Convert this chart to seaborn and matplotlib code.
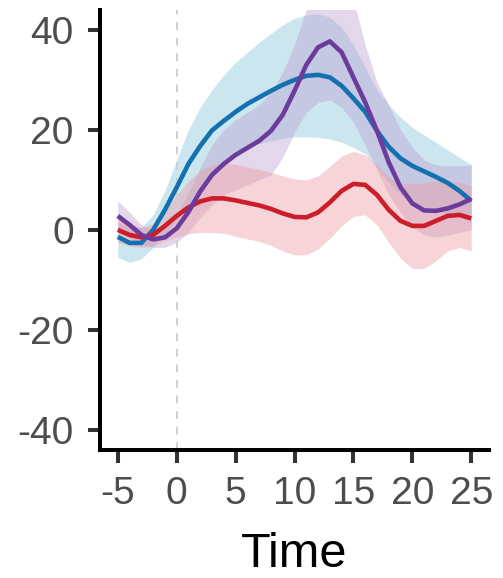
import numpy as np
import pandas as pd
import matplotlib
matplotlib.use("Agg")
import matplotlib.pyplot as plt
import seaborn as sns

# Time axis (integer steps)
time = list(range(-5, 26))

# Group means and confidence limits
blue_mean = [-1.4, -2.6, -2.6, 0.0, 4.0, 8.5, 13.2, 16.8, 19.9, 21.8, 23.6, 25.2, 26.5, 27.8, 29.0, 30.0,
             30.8, 31.0, 30.5, 28.8, 26.3, 23.6, 19.8, 16.6, 14.3, 12.8, 11.7, 10.6, 9.4, 7.8, 5.8]
blue_upper = [1.5, 0.5, 0.5, 3.0, 7.8, 14.0, 20.0, 24.5, 28.0, 31.0, 33.5, 35.5, 37.5, 39.3, 41.0, 42.3,
              43.0, 43.2, 42.5, 40.5, 37.0, 32.5, 28.0, 25.0, 22.5, 20.5, 19.0, 17.5, 16.0, 14.5, 13.0]
blue_lower = [-5.5, -6.5, -5.8, -3.5, -0.8, 1.8, 5.0, 8.2, 11.0, 14.0, 15.8, 16.8, 17.3, 17.8, 18.3, 18.6,
              18.6, 18.5, 18.2, 17.5, 16.5, 15.2, 12.5, 9.5, 7.0, 5.5, 4.5, 3.8, 3.2, 2.5, 1.5]

purple_mean = [2.8, 1.0, -1.0, -1.9, -1.5, 0.3, 3.6, 7.7, 11.0, 13.2, 15.0, 16.4, 17.8, 19.8, 23.0, 27.8,
               33.0, 36.5, 37.7, 35.5, 30.5, 25.5, 19.8, 13.5, 8.5, 5.3, 3.9, 3.8, 4.3, 5.1, 6.2]
purple_upper = [5.8, 3.5, 1.0, 0.0, 0.5, 3.0, 7.5, 12.5, 17.0, 20.0, 22.0, 23.5, 25.0, 27.5, 31.5, 37.0,
                44.0, 48.0, 50.0, 50.0, 46.0, 37.0, 29.5, 25.0, 20.0, 16.5, 14.0, 13.0, 12.8, 12.8, 13.0]
purple_lower = [0.0, -1.5, -3.0, -3.5, -3.5, -2.5, -0.5, 2.5, 5.0, 7.0, 8.0, 9.0, 10.0, 11.0, 14.5, 19.5,
                23.5, 25.5, 26.0, 24.5, 21.5, 17.0, 12.0, 7.0, 3.5, 0.5, -1.0, -1.5, -1.0, -0.5, 0.0]

red_mean = [0.0, -1.0, -1.5, -1.0, 0.8, 2.8, 4.5, 5.7, 6.3, 6.3, 5.9, 5.4, 4.9, 4.2, 3.3, 2.6,
            2.5, 3.5, 5.5, 7.8, 9.2, 9.0, 7.0, 4.0, 1.8, 0.8, 0.8, 1.8, 2.8, 3.0, 2.3]
red_upper = [2.5, 1.2, 0.5, 1.2, 3.8, 7.0, 9.8, 11.9, 13.1, 13.3, 13.1, 12.6, 12.1, 11.5, 10.8, 10.2,
             10.0, 10.8, 12.7, 14.8, 15.7, 15.0, 13.0, 10.5, 9.3, 9.3, 9.3, 9.8, 9.8, 9.5, 8.8]
red_lower = [-2.5, -3.2, -3.5, -3.2, -2.2, -1.4, -0.8, -0.5, -0.5, -0.7, -1.3, -1.8, -2.3, -3.1, -4.2, -5.0,
             -5.0, -3.8, -1.7, 0.8, 2.7, 3.0, 1.0, -2.5, -5.7, -7.7, -7.7, -6.2, -4.2, -3.5, -4.2]

x_ticks = [-5, 0, 5, 10, 15, 20, 25]
y_ticks = [-40, -20, 0, 20, 40]

groups = ["blue", "red", "purple"]
line_colors = {"blue": "#1570b0", "red": "#cc1d2b", "purple": "#6b3c9b"}
band_styles = {"blue": ("#add8e6", 0.62), "purple": ("#b99bd0", 0.40), "red": ("#ee9aa2", 0.42)}

df = pd.concat([
    pd.DataFrame({"Time": time, "value": blue_mean, "lo": blue_lower, "hi": blue_upper, "group": "blue"}),
    pd.DataFrame({"Time": time, "value": red_mean, "lo": red_lower, "hi": red_upper, "group": "red"}),
    pd.DataFrame({"Time": time, "value": purple_mean, "lo": purple_lower, "hi": purple_upper, "group": "purple"}),
], ignore_index=True)

sns.set_theme(style="ticks")
plt.rcParams["font.family"] = ["Liberation Sans", "DejaVu Sans"]

fig = plt.figure(figsize=(5.03, 5.78), dpi=100)
ax = fig.add_axes([0.199, 0.2215, 0.773, 0.7615])

# Confidence ribbons
for g in ["blue", "purple", "red"]:
    sub = df[df["group"] == g]
    col, a = band_styles[g]
    ax.fill_between(sub["Time"], sub["lo"], sub["hi"], color=col, alpha=a, linewidth=0, zorder=1)

# Event onset marker
ax.axvline(0, color="#cfcfcf", linestyle=(0, (4, 4)), linewidth=1.4, zorder=2)

# Group mean curves
sns.lineplot(data=df, x="Time", y="value", hue="group", hue_order=groups,
             palette=line_colors, linewidth=3.3, legend=False, ax=ax, zorder=3,
             estimator=None, sort=True, solid_joinstyle="round", solid_capstyle="butt")

ax.set_xlim(-6.5, 26.5)
ax.set_ylim(-44, 44)
ax.set_xticks(x_ticks)
ax.set_xticklabels([str(v) for v in x_ticks])
ax.set_yticks(y_ticks)
ax.set_yticklabels([str(v) for v in y_ticks])

for side in ["top", "right"]:
    ax.spines[side].set_visible(False)
for side in ["left", "bottom"]:
    ax.spines[side].set_linewidth(2.9)
    ax.spines[side].set_color("black")

ax.tick_params(axis="both", length=9, width=2.9, color="#333333",
               labelsize=28, labelcolor="#4d4d4d", pad=10)
ax.set_xlabel("Time", fontsize=35, color="black", labelpad=14)
ax.set_ylabel("")

fig.savefig("out.png", dpi=100)
